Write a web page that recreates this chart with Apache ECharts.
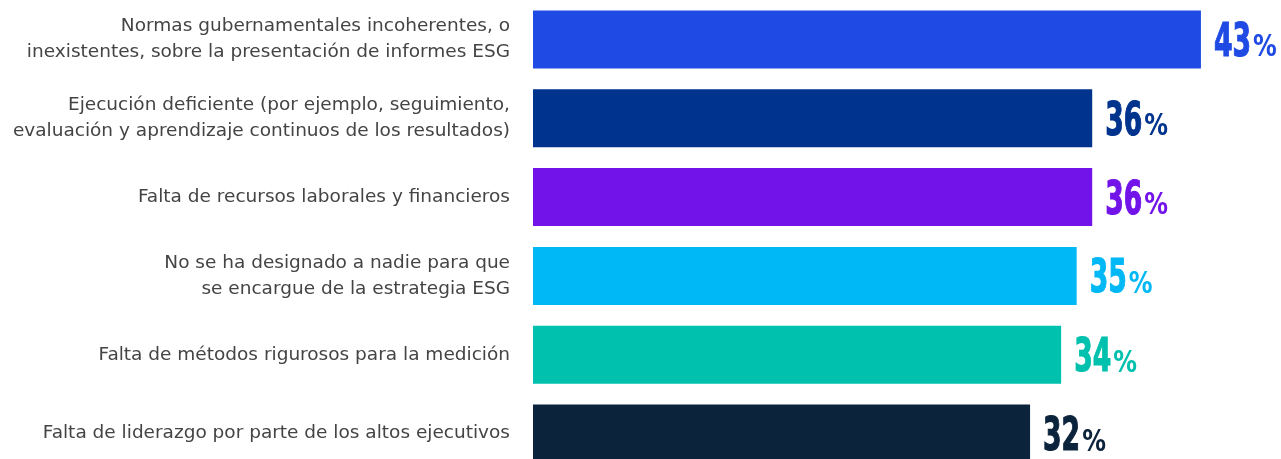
<!DOCTYPE html>
<html><head><meta charset="utf-8">
<script src="https://cdn.jsdelivr.net/npm/echarts@6/dist/echarts.min.js"></script>
<style>html,body{margin:0;padding:0;background:#fff}#c{width:1281px;height:459px}</style>
</head><body><div id="c"></div>
<script>
const categories = [
  "Normas gubernamentales incoherentes, o\ninexistentes, sobre la presentación de informes ESG",
  "Ejecución deficiente (por ejemplo, seguimiento,\nevaluación y aprendizaje continuos de los resultados)",
  "Falta de recursos laborales y financieros",
  "No se ha designado a nadie para que\nse encargue de la estrategia ESG",
  "Falta de métodos rigurosos para la medición",
  "Falta de liderazgo por parte de los altos ejecutivos"
];
const values = [43, 36, 36, 35, 34, 32];
const colors = ["#1F4AE3", "#00338D", "#7213EA", "#00B8F5", "#00C0AE", "#0C233C"];

const numFont = "'DejaVu Sans Condensed', 'DejaVu Sans', sans-serif";
const NUM_SIZE = 47, PCT_SIZE = 31, NUM_SX = 0.63, PCT_SX = 0.85;
const mctx = document.createElement('canvas').getContext('2d');
function measure(txt, size) {
  mctx.font = 'bold ' + size + 'px ' + numFont;
  return mctx.measureText(txt).width;
}

const chart = echarts.init(document.getElementById('c'), null, {renderer: 'canvas'});
chart.setOption({
  animation: false,
  grid: {left: 533, right: 49, top: 0, height: 473, containLabel: false, outerBoundsMode: 'none'},
  xAxis: {type: 'value', min: 0, max: 45, show: false},
  yAxis: {
    type: 'category', data: categories, inverse: true,
    axisLine: {show: false}, axisTick: {show: false},
    axisLabel: {margin: 23, fontFamily: 'DejaVu Sans', fontSize: 18.5, color: '#444444', lineHeight: 26, align: 'right'}
  },
  series: [{
    type: 'bar', barWidth: 58,
    data: values.map((v, i) => ({value: v, itemStyle: {color: colors[i]}}))
  }, {
    type: 'custom',
    data: values.map((v, i) => [v, i]),
    renderItem: function (params, api) {
      const v = api.value(0), i = api.value(1);
      const pt = api.coord([v, i]);
      const x = pt[0] + 13, base = pt[1] + 18;
      const nw = measure(String(v), NUM_SIZE) * NUM_SX;
      return {
        type: 'group',
        children: [{
          type: 'text', x: x, y: base - 0.79 * NUM_SIZE, scaleX: NUM_SX,
          style: {text: String(v), fill: colors[i], stroke: colors[i], lineWidth: 1.2,
            fontFamily: numFont, fontWeight: 'bold', fontSize: NUM_SIZE,
            align: 'left', verticalAlign: 'top'}
        }, {
          type: 'text', x: x + nw + 2, y: base - 0.79 * PCT_SIZE, scaleX: PCT_SX,
          style: {text: '%', fill: colors[i], fontFamily: numFont, fontWeight: 'bold', fontSize: PCT_SIZE,
            align: 'left', verticalAlign: 'top'}
        }]
      };
    }
  }]
});
</script></body></html>
